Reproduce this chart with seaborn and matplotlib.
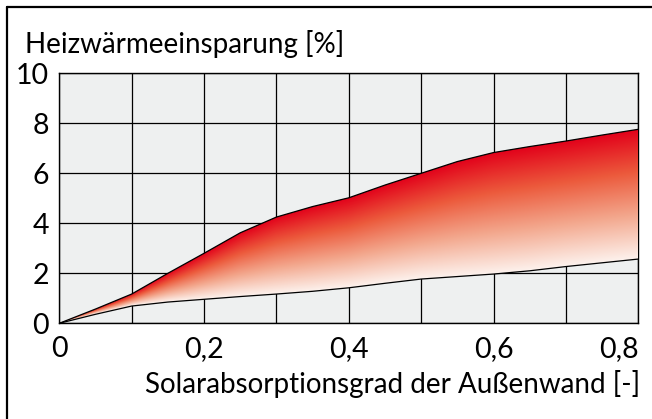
import matplotlib
matplotlib.use("Agg")

import numpy as np
import pandas as pd
import matplotlib.pyplot as plt
from matplotlib.colors import LinearSegmentedColormap
from matplotlib.lines import Line2D
import seaborn as sns

# --- data ---
absorption = [0.0, 0.05, 0.1, 0.15, 0.2, 0.25, 0.3, 0.35, 0.4, 0.45, 0.5, 0.55, 0.6, 0.65, 0.7, 0.75, 0.8]
saving_upper = [0.0, 0.57, 1.17, 2.0, 2.8, 3.62, 4.25, 4.67, 5.02, 5.53, 6.0, 6.47, 6.83, 7.07, 7.29, 7.53, 7.76]
saving_lower = [0.0, 0.36, 0.69, 0.85, 0.96, 1.07, 1.17, 1.28, 1.42, 1.6, 1.77, 1.87, 1.97, 2.1, 2.27, 2.42, 2.57]
x_ticks = [0.0, 0.2, 0.4, 0.6, 0.8]
x_tick_labels = ["0", "0,2", "0,4", "0,6", "0,8"]
y_ticks = [0, 2, 4, 6, 8, 10]

sns.set_theme(style="whitegrid")
plt.rcParams["font.family"] = ["Lato", "DejaVu Sans"]

fig = plt.figure(figsize=(6.52, 4.19), dpi=100)
ax = fig.add_axes([59.3 / 652, 1 - 323.3 / 419, 579 / 652, 250 / 419])
ax.set_facecolor("#eef0f0")

df = pd.DataFrame({"a": absorption, "upper": saving_upper, "lower": saving_lower})

# gradient fill between the curves: red at the upper curve, pale at the lower one
cmap = LinearSegmentedColormap.from_list("heat", ["#fdf1ec", "#f3a88e", "#ec5a3c", "#e2001a"])
gx = np.linspace(0, 0.8, 600)
gy = np.linspace(0, 10, 800)
up = np.interp(gx, absorption, saving_upper)
lo = np.interp(gx, absorption, saving_lower)
span = np.maximum(up - lo, 1e-6)
t = np.clip((gy[:, None] - lo[None, :]) / span[None, :], 0, 1)
img = ax.imshow(cmap(t), extent=[0, 0.8, 0, 10], origin="lower", aspect="auto",
                interpolation="bilinear", zorder=3)
poly = ax.fill_between(df["a"], df["lower"], df["upper"], facecolor="none", edgecolor="none", zorder=3)
img.set_clip_path(poly.get_paths()[0], transform=ax.transData)

sns.lineplot(data=df, x="a", y="upper", color="black", linewidth=0.9, ax=ax, zorder=4)
sns.lineplot(data=df, x="a", y="lower", color="black", linewidth=0.9, ax=ax, zorder=4)

ax.set_xlim(0, 0.8)
ax.set_ylim(0, 10)
ax.set_xticks(x_ticks)
ax.set_xticks(np.arange(0.1, 0.8, 0.2), minor=True)
ax.set_xticklabels(x_tick_labels)
ax.set_yticks(y_ticks)
ax.grid(True, which="both", color="black", linewidth=0.9)
ax.set_axisbelow(True)
ax.tick_params(axis="both", which="both", length=0, labelsize=20.5, colors="black")
ax.tick_params(axis="y", pad=7.5)
ax.tick_params(axis="x", pad=9)
ax.get_xticklabels()[-1].set_horizontalalignment("right")
for s in ax.spines.values():
    s.set_visible(True)
    s.set_color("black")
    s.set_linewidth(1.0)
ax.set_xlabel("")
ax.set_ylabel("")

fig.text(25 / 652, 1 - 53 / 419, "Heizwärmeeinsparung [%]", fontsize=20,
         ha="left", va="baseline", color="black")
fig.text(640 / 652, 1 - 393 / 419, "Solarabsorptionsgrad der Außenwand [-]", fontsize=20,
         ha="right", va="baseline", color="black")

# frame around the figure (only left and top edges fall inside the picture)
fig.add_artist(Line2D([6.5 / 652, 6.5 / 652], [0, 1 - 7 / 419], color="black", linewidth=1.6,
                      transform=fig.transFigure))
fig.add_artist(Line2D([6.5 / 652, 1], [1 - 7 / 419, 1 - 7 / 419], color="black", linewidth=1.6,
                      transform=fig.transFigure))

fig.savefig("out.png", dpi=100)
